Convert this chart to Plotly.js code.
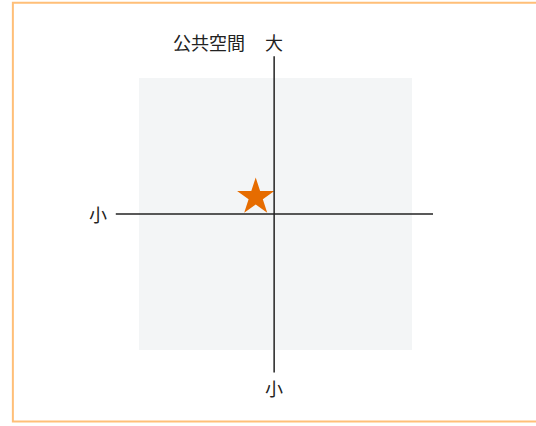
<!DOCTYPE html>
<html>
<head>
<meta charset="utf-8">
<script src="https://cdn.plot.ly/plotly-3.0.1.min.js"></script>
<style>
  html, body { margin: 0; padding: 0; background: #fff; }
  #chart { width: 536px; height: 426px; }
</style>
</head>
<body>
<div id="chart"></div>
<script>
// 公共空間の位置づけ (大/小 の二軸)
var pointX = [-1.45];
var pointY = [1.25];
var axisName = '公共空間';
var labelHigh = '大';
var labelLow = '小';

var trace = {
  type: 'scatter',
  mode: 'markers',
  x: pointX,
  y: pointY,
  marker: {
    symbol: 'star',
    size: 28,
    color: '#e66c00',
    line: { width: 0 }
  },
  hoverinfo: 'skip'
};

var font = { family: 'Noto Sans CJK JP, Noto Sans, sans-serif', size: 18, color: '#222' };

var layout = {
  width: 536,
  height: 426,
  margin: { l: 139, r: 124, t: 78, b: 76 },
  paper_bgcolor: '#ffffff',
  plot_bgcolor: '#f3f5f6',
  showlegend: false,
  xaxis: { range: [-10, 10], showgrid: false, zeroline: false, showticklabels: false, ticks: '', fixedrange: true },
  yaxis: { range: [-10, 10], showgrid: false, zeroline: false, showticklabels: false, ticks: '', fixedrange: true },
  shapes: [
    // outer frame
    { type: 'rect', xref: 'paper', yref: 'paper', x0: -0.462, x1: 1.6, y0: -0.263, y1: 1.277,
      line: { color: '#ffbf78', width: 2 }, layer: 'below' },
    // horizontal axis
    { type: 'line', xref: 'paper', yref: 'y', x0: -0.085, x1: 1.077, y0: 0, y1: 0,
      line: { color: '#222', width: 1.5 } },
    // vertical axis
    { type: 'line', xref: 'x', yref: 'paper', x0: -0.1, x1: -0.1, y0: -0.083, y1: 1.08,
      line: { color: '#222', width: 1.5 } }
  ],
  annotations: [
    { xref: 'paper', yref: 'paper', x: (209 - 139) / 273, y: (350 - 42) / 272, text: axisName,
      showarrow: false, font: font, xanchor: 'center', yanchor: 'middle' },
    { xref: 'x', yref: 'paper', x: -0.1, y: (350 - 42) / 272, text: labelHigh,
      showarrow: false, font: font, xanchor: 'center', yanchor: 'middle' },
    { xref: 'x', yref: 'paper', x: -0.1, y: (350 - 388) / 272, text: labelLow,
      showarrow: false, font: font, xanchor: 'center', yanchor: 'middle' },
    { xref: 'paper', yref: 'y', x: (98 - 139) / 273, y: 0, text: labelLow,
      showarrow: false, font: font, xanchor: 'center', yanchor: 'middle' }
  ]
};

Plotly.newPlot('chart', [trace], layout, { displayModeBar: false, staticPlot: true });
</script>
</body>
</html>
